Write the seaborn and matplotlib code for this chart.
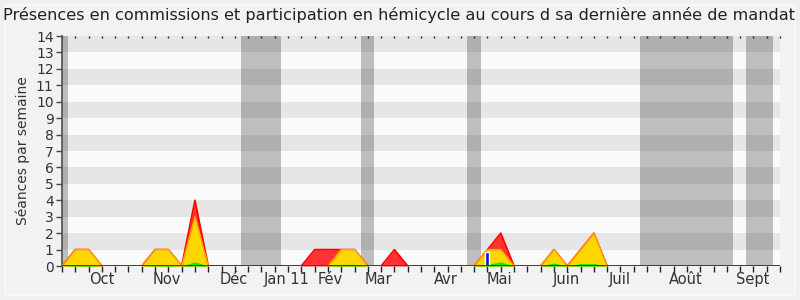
import matplotlib
matplotlib.use("Agg")
import matplotlib.pyplot as plt
from matplotlib.patches import FancyBboxPatch
import seaborn as sns
import numpy as np
import pandas as pd

# ---- data (weekly) ----
weeks = list(range(55))
hemicycle = [0, 1, 1, 0, 0, 0, 0, 1, 1, 0, 4, 0, 0, 0, 0, 0, 0, 0, 0, 1,
             1, 1, 1, 0, 0, 1, 0, 0, 0, 0, 0, 0, 1, 2, 0, 0, 0, 1, 0, 1,
             2, 0, 0, 0, 0, 0, 0, 0, 0, 0, 0, 0, 0, 0, 0]
commission = [0, 1, 1, 0, 0, 0, 0, 1, 1, 0, 3, 0, 0, 0, 0, 0, 0, 0, 0, 0,
              0, 1, 1, 0, 0, 0, 0, 0, 0, 0, 0, 0, 1, 1, 0, 0, 0, 1, 0, 1,
              2, 0, 0, 0, 0, 0, 0, 0, 0, 0, 0, 0, 0, 0, 0]
interventions = [0, 0.05, 0.05, 0, 0, 0, 0, 0.05, 0.05, 0, 0.25, 0, 0, 0, 0, 0, 0, 0, 0, 0,
                 0, 0.1, 0.1, 0, 0, 0, 0, 0, 0, 0, 0, 0, 0.1, 0.25, 0, 0, 0, 0.18, 0, 0.15,
                 0.15, 0, 0, 0, 0, 0, 0, 0, 0, 0, 0, 0, 0, 0, 0]
question_weeks = [32]
question_heights = [0.85]
vacation_starts = [0.0, 13.45, 22.45, 30.45, 43.45, 51.45]
vacation_ends = [0.45, 16.5, 23.5, 31.5, 50.5, 53.5]
month_labels = ["Oct", "Nov", "Déc", "Jan 11", "Fév", "Mar", "Avr", "Mai", "Juin", "Juil", "Août", "Sept"]
month_pos = [3.0, 7.9, 12.9, 16.9, 20.2, 23.8, 28.9, 32.9, 37.9, 41.95, 46.9, 51.95]
ymax = 14

df = pd.DataFrame({"week": weeks, "hemicycle": hemicycle,
                   "commission": commission, "interventions": interventions})

sns.set_theme(style="white")
plt.rcParams['font.family'] = ['DejaVu Sans']

fig = plt.figure(figsize=(8, 3), dpi=100, facecolor="#f0f0f0")
frame = FancyBboxPatch((5/800, 5/300), 790/800, 290/300, boxstyle="round,pad=0,rounding_size=0.01",
                       transform=fig.transFigure, facecolor="#f2f2f2", edgecolor="#fbfbfb", lw=1,
                       zorder=-10)
fig.patches.append(frame)

ax = fig.add_axes([62/800, 1-266/300, (780-62)/800, (266-36)/300])
ax.set_zorder(5)
ax.set_facecolor("#fafafa")

# horizontal stripes
for k in range(ymax):
    if k % 2 == 1:
        ax.axhspan(k, k+1, color="#e6e6e6", lw=0, zorder=0)
# vacation columns
for s, e in zip(vacation_starts, vacation_ends):
    ax.axvspan(s, e, color="black", alpha=0.24, lw=0, zorder=0.5)

x = df["week"].values
ax.fill_between(x, df["hemicycle"], color="#ff3333", lw=0, zorder=2)
sns.lineplot(data=df, x="week", y="hemicycle", color="#ff0000", lw=1.2, ax=ax, zorder=2.1)
ax.fill_between(x, df["commission"], color="#ffd700", lw=0, zorder=3)
sns.lineplot(data=df, x="week", y="commission", color="#ffa500", lw=1, ax=ax, zorder=3.1)
ax.fill_between(x, df["interventions"], color="#00ee00", lw=0, zorder=4)
ax.bar(question_weeks, question_heights, width=0.3, color="#1010dd", zorder=5)
ax.axhline(0, color="#6b1a00", lw=1.2, zorder=6)

ax.set_xlim(0, 54)
ax.set_ylim(0, ymax)
ax.set_xlabel("")
ax.set_ylabel("Séances par semaine", fontsize=10, color="#333333", labelpad=4)
ax.set_yticks(range(ymax + 1))
ax.set_yticklabels([str(v) for v in range(ymax + 1)], fontsize=10, color="#333333")
ax.set_xticks(range(55))
ax.set_xticklabels([])
ax.tick_params(axis="x", which="major", direction="out", length=4, width=1, color="#222222",
               bottom=True, top=False)
ax.tick_params(axis="y", direction="out", length=4, width=1, color="#444444", left=True, pad=2)
# tiny dotted marks along the top edge
sec = ax.secondary_xaxis("top")
sec.set_xticks(range(55))
sec.set_xticklabels([])
sec.tick_params(direction="in", length=1.2, width=1, color="#222222")
sec.spines["top"].set_visible(False)

for lab, pos in zip(month_labels, month_pos):
    ax.text(pos, -0.027, lab, transform=ax.get_xaxis_transform(), ha="center", va="top",
            fontsize=10.5, color="#333333")

for side in ["top", "right"]:
    ax.spines[side].set_visible(False)
ax.spines["left"].set_color("#555555")
ax.spines["bottom"].set_visible(False)
legend = ax.get_legend()
if legend:
    legend.remove()

fig.text(0.004, 1-20/300, "Présences en commissions et participation en hémicycle au cours d sa dernière année de mandat",
         fontsize=11.6, va="baseline", ha="left", color="#222222")

fig.savefig("out.png", dpi=100, facecolor=fig.get_facecolor())
